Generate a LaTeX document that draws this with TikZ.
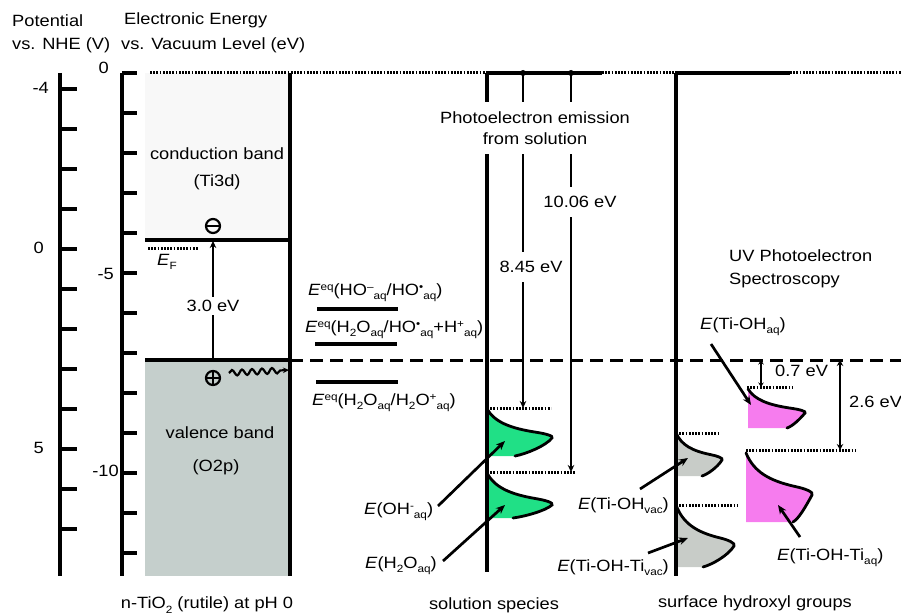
\documentclass[tikz,border=0pt]{standalone}
\usepackage{fontspec}
\setmainfont{Liberation Sans}[FakeStretch=1.12]
\usetikzlibrary{arrows.meta,decorations.pathmorphing}
\newcommand\up[1]{\raisebox{0.6ex}{\fontsize{10.5}{11}\selectfont #1}}
\newcommand\dn[1]{\raisebox{-0.5ex}{\fontsize{10.5}{11}\selectfont #1}}
\newcommand\Ei{\textit{E}}
\definecolor{cbfill}{RGB}{248,248,248}
\definecolor{vbfill}{RGB}{197,207,204}
\definecolor{solgreen}{RGB}{32,224,134}
\definecolor{vacgray}{RGB}{200,204,200}
\definecolor{aqpink}{RGB}{246,124,238}
\newcommand\bandpeak[7]{%
 \fill[#7] (#1,#2) .. controls ({#1+0.12*(#3-#1)},{#2+0.45*(#4-#2)}) and ({#1+0.35*(#3-#1)},{#2+0.66*(#4-#2)}) .. ({#1+0.75*(#3-#1)},{#2+0.8*(#4-#2)}) .. controls ({#1+0.9*(#3-#1)},{#2+0.85*(#4-#2)}) and ({#1+1.03*(#3-#1)},{#2+0.93*(#4-#2)}) .. (#3,#4) .. controls ({#3-0.1*(#3-#1)},{#4+0.45*(#5-#4)}) and ({#6+0.3*(#3-#6)},{#5-0.12*(#5-#4)}) .. (#6,#5) -- (#1,#5) -- cycle;
 \draw[peakline] (#1,#2) .. controls ({#1+0.12*(#3-#1)},{#2+0.45*(#4-#2)}) and ({#1+0.35*(#3-#1)},{#2+0.66*(#4-#2)}) .. ({#1+0.75*(#3-#1)},{#2+0.8*(#4-#2)}) .. controls ({#1+0.9*(#3-#1)},{#2+0.85*(#4-#2)}) and ({#1+1.03*(#3-#1)},{#2+0.93*(#4-#2)}) .. (#3,#4) .. controls ({#3-0.1*(#3-#1)},{#4+0.45*(#5-#4)}) and ({#6+0.3*(#3-#6)},{#5-0.12*(#5-#4)}) .. (#6,#5);}
\begin{document}
\begin{tikzpicture}[x=1pt,y=-1pt,
  lbl/.style={inner sep=0pt, font=\fontsize{16.3}{21}\selectfont},
  wlbl/.style={lbl, fill=white, inner xsep=1pt},
  struct/.style={line width=3.2pt},
  axisline/.style={line width=3.4pt},
  peakline/.style={line width=2.8pt, line cap=round},
  dotline/.style={line width=3pt, dash pattern=on 1.8pt off 1.4pt},
  longdash/.style={line width=3pt, dash pattern=on 13pt off 7pt},
  arr/.style={line width=2.9pt, -{Stealth[length=7pt,width=6.5pt]}},
  darr/.style={line width=2.8pt, {Stealth[length=6pt,width=6.5pt]}-{Stealth[length=6pt,width=6.5pt]}},
  ptr/.style={line width=2.7pt, -{Stealth[length=9pt,width=7.5pt]}},
  chg/.style={circle, draw, line width=2.2pt, inner sep=0pt, minimum size=14pt}]
\useasboundingbox (0,0) rectangle (901,615);

% headers
\node[lbl, anchor=mid west] (h1a) at (12,24) {Potential};
\node[lbl, anchor=mid west] (h1b) at (12,47) {vs. NHE (V)};
\node[lbl, anchor=mid west] (h2a) at (124,22) {Electronic Energy};
\node[lbl, anchor=mid west] (h2b) at (121,47) {vs. Vacuum Level (eV)};

% potential axis
\draw[axisline] (60,73) -- (60,576);
\foreach \yy in {89,129,...,529} \draw[axisline] (60,\yy) -- (77,\yy);
\node[lbl, anchor=mid east] (pm4) at (49,91) {-4};
\node[lbl, anchor=mid east] (p0) at (44,251) {0};
\node[lbl, anchor=mid east] (p5) at (44,451) {5};

% energy axis
\draw[axisline] (122,73) -- (122,576);
\foreach \yy in {73,113,...,553} \draw[axisline] (122,\yy) -- (137,\yy);
\node[lbl, anchor=mid east] (e0) at (109,71) {0};
\node[lbl, anchor=mid east] (em5) at (114,277) {-5};
\node[lbl, anchor=mid east] (em10) at (119,474) {-10};

% TiO2 bands
\fill[cbfill] (145,73) rectangle (290,240);
\fill[vbfill] (145,360) rectangle (290,576);
\draw[struct] (145,240) -- (290,240);
\draw[struct] (145,360) -- (290,360);
\draw[longdash] (290,360) -- (901,360);
\draw[struct] (290,73) -- (290,576);
\draw[dotline] (148,248) -- (198,248);
\node[lbl, anchor=mid west] (ef) at (157,263) {\Ei\dn{F}};
\node[lbl] (cbl) at (217,154) {conduction band};
\node[lbl] (cbl2) at (217,182) {(Ti3d)};
\node[lbl] (vbl) at (220,433) {valence band};
\node[lbl] (vbl2) at (216,467) {(O2p)};
\coordinate (vbtop) at (213,360);
\coordinate (cbbot) at (213,241);
\draw[arr] (vbtop) -- (cbbot);
\node[wlbl, inner ysep=3pt] (gap) at (213,306) {3.0 eV};
\node[chg] (el) at (213,226) {};
\draw[line width=2.2pt] (el.west) -- (el.east);
\node[chg] (ho) at (213,378) {};
\draw[line width=2.2pt] (ho.west) -- (ho.east);
\draw[line width=2.2pt] (ho.north) -- (ho.south);
\coordinate (wv1) at (229,373);
\coordinate (wv2) at (289,370);
\draw[line width=2.2pt, -{Stealth[length=6pt,width=5.5pt]}, decorate, decoration={snake, amplitude=2.8pt, segment length=10pt, post length=5pt}] (wv1) -- (wv2);

% vacuum level
\draw[dotline] (150,73) -- (487,73);
\draw[struct] (486,73) -- (602,73);
\draw[dotline] (602,73) -- (675,73);
\draw[struct] (675,73) -- (790,73);
\draw[dotline] (790,73) -- (901,73);

% redox levels
\draw[struct] (317,309) -- (398,309);
\draw[struct] (315,344) -- (397,344);
\draw[struct] (316,382) -- (398,382);
\node[lbl, anchor=mid west] (r1) at (308,293) {\Ei\up{eq}(HO\up{--}\dn{aq}/HO\up{•}\dn{aq})};
\node[lbl, anchor=mid west] (r2) at (305,330) {\Ei\up{eq}(H\dn{2}O\dn{aq}/HO\up{•}\dn{aq}+H\up{+}\dn{aq})};
\node[lbl, anchor=mid west] (r3) at (312,403) {\Ei\up{eq}(H\dn{2}O\dn{aq}/H\dn{2}O\up{+}\dn{aq})};

% solution species
\bandpeak{487}{409}{552}{438}{456}{515}{solgreen}
\bandpeak{487}{473}{552}{505}{518}{513}{solgreen}
\draw[dotline] (487,408) -- (551,408);
\draw[dotline] (487,472) -- (575,472);
\draw[struct] (487,73) -- (487,572);
\coordinate (t845) at (523,73);
\coordinate (b845) at (523,408);
\coordinate (t1006) at (571,73);
\coordinate (b1006) at (571,472);
\fill (t845) circle (3pt);
\fill (t1006) circle (3pt);
\draw[arr] (t845) -- (b845);
\draw[arr] (t1006) -- (b1006);
\node[wlbl, align=center, inner ysep=10pt] (pes) at (535,128) {Photoelectron emission\\from solution};
\node[wlbl, inner ysep=9pt] (l845) at (531,267) {8.45 eV};
\node[wlbl, inner ysep=9pt] (l1006) at (580,202) {10.06 eV};
\node[lbl, anchor=mid west] (loh) at (364,512) {\Ei(OH\up{-}\dn{aq})};
\node[lbl, anchor=mid west] (lh2o) at (365,566) {\Ei(H\dn{2}O\dn{aq})};
\coordinate (aoh1) at (438,506);
\coordinate (aoh2) at (505,441);
\coordinate (ah1) at (443,561);
\coordinate (ah2) at (505,505);
\draw[ptr] (aoh1) -- (aoh2);
\draw[ptr] (ah1) -- (ah2);
\node[lbl] (lsol) at (494,605) {solution species};

% surface hydroxyl groups
\bandpeak{676}{433}{722}{460}{476}{702}{vacgray}
\bandpeak{676}{505}{734}{546}{567}{703}{vacgray}
\draw[dotline] (676,433) -- (718,433);
\draw[dotline] (676,505) -- (737,505);
\draw[struct] (676,73) -- (676,576);
\bandpeak{748}{389}{805}{413}{428}{787}{aqpink}
\bandpeak{746}{453}{812}{495}{522}{793}{aqpink}
\draw[dotline] (747,387) -- (792,387);
\draw[dotline] (746,450) -- (855,450);
\coordinate (d07a) at (761,360);
\coordinate (d07b) at (761,387);
\draw[line width=2.4pt, {Stealth[length=4.5pt,width=5.5pt]}-{Stealth[length=4.5pt,width=5.5pt]}] (d07a) -- (d07b);
\coordinate (d26a) at (840,360);
\coordinate (d26b) at (840,450);
\draw[darr] (d26a) -- (d26b);
\node[lbl, anchor=mid west] (l07) at (775,374) {0.7 eV};
\node[lbl, anchor=mid west] (l26) at (849,405) {2.6 eV};
\node[lbl, anchor=mid west] (ups1) at (729,259) {UV Photoelectron};
\node[lbl, anchor=mid west] (ups2) at (729,282) {Spectroscopy};
\node[lbl, anchor=mid west] (ltaq) at (700,327) {\Ei(Ti-OH\dn{aq})};
\node[lbl, anchor=mid east] (ltvac) at (669,507) {\Ei(Ti-OH\dn{vac})};
\node[lbl, anchor=mid east] (lttvac) at (669,569) {\Ei(Ti-OH-Ti\dn{vac})};
\node[lbl, anchor=mid west] (lttaq) at (777,558) {\Ei(Ti-OH-Ti\dn{aq})};
\coordinate (p1a) at (711,344); \coordinate (p1b) at (751,405);
\coordinate (p2a) at (640,489); \coordinate (p2b) at (688,458);
\coordinate (p3a) at (648,553); \coordinate (p3b) at (688,538);
\coordinate (p4a) at (800,537); \coordinate (p4b) at (778,505);
\draw[ptr] (p1a) -- (p1b);
\draw[ptr] (p2a) -- (p2b);
\draw[ptr] (p3a) -- (p3b);
\draw[ptr] (p4a) -- (p4b);
\node[lbl] (lsurf) at (755,603) {surface hydroxyl groups};
\node[lbl] (ltio2) at (207,605) {n-TiO\dn{2} (rutile) at pH 0};
\end{tikzpicture}
\end{document}
